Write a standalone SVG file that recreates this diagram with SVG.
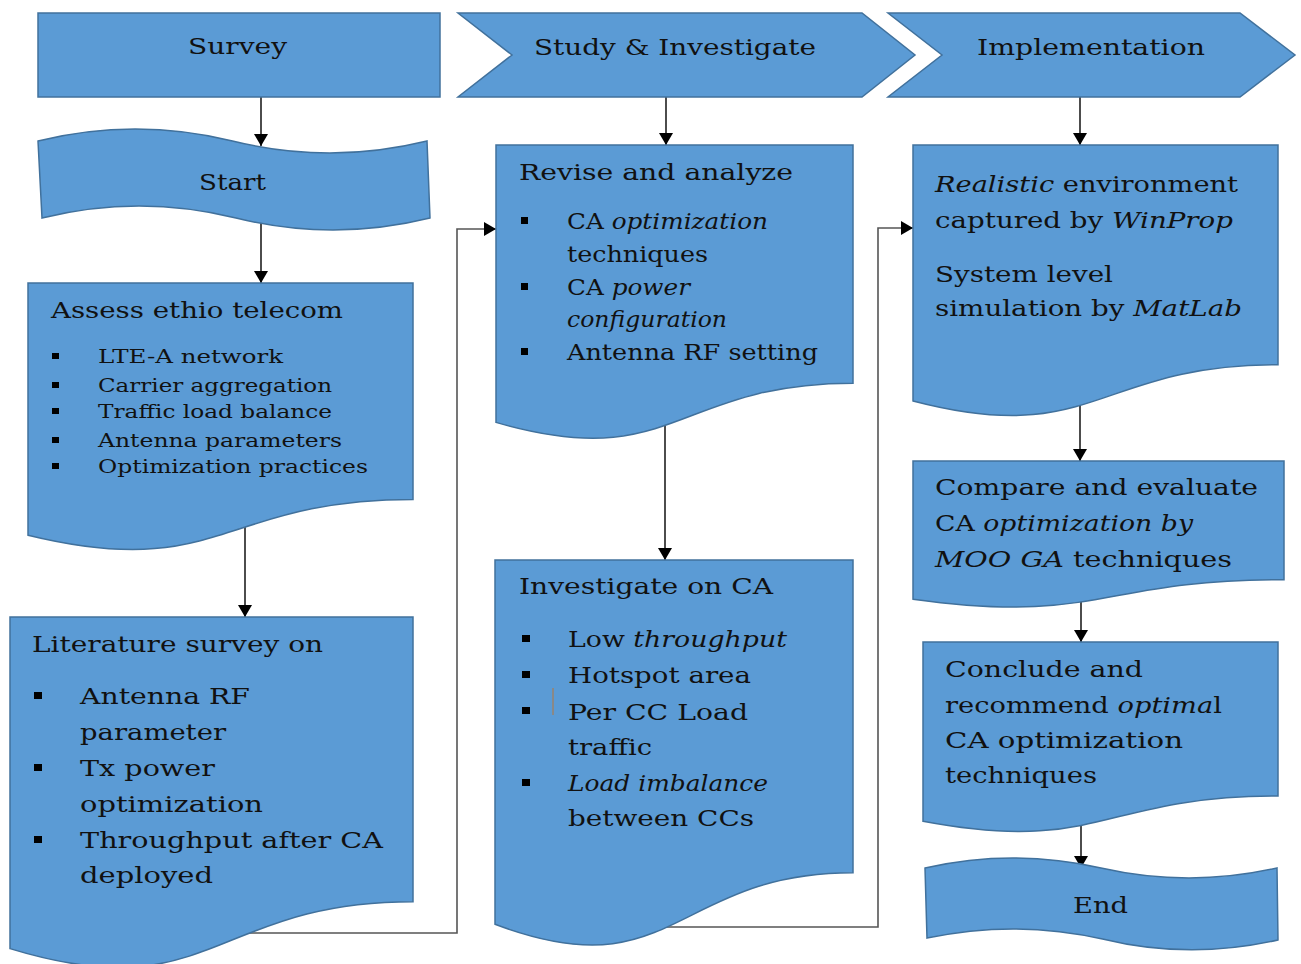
<svg xmlns="http://www.w3.org/2000/svg" width="1301" height="964" viewBox="0 0 1301 964">
  <style>
    .shape { fill: #5B9BD5; stroke: #41719C; stroke-width: 1.5; }
    .conn { fill: none; stroke: #000; stroke-width: 1.4; }
    .route { fill: none; stroke: #555; stroke-width: 1.6; }
    text { font-family: "DejaVu Serif", "Liberation Serif", serif; fill: #111; }
    .hd { font-size: 23px; }
    .tt { font-size: 23px; }
    .sm { font-size: 18px; }
    .it { font-style: italic; }
    .bul { fill: #000; }
  </style>
  <defs>
    <marker id="arrow" viewBox="0 0 12 14" refX="12" refY="7" markerWidth="12" markerHeight="14" markerUnits="userSpaceOnUse" orient="auto">
      <path d="M0,0 L12,7 L0,14 Z" fill="#000"/>
    </marker>
  </defs>

  <!-- connectors, drawn beneath the shapes -->
  <g id="connectors">
    <path class="conn" d="M261,97 V146" marker-end="url(#arrow)"/>
    <path class="conn" d="M261,215 V283" marker-end="url(#arrow)"/>
    <path class="conn" d="M245,520 V617" marker-end="url(#arrow)"/>
    <path class="route" d="M200,933 H457 V229 H496" marker-end="url(#arrow)"/>
    <path class="conn" d="M666,97 V145" marker-end="url(#arrow)"/>
    <path class="conn" d="M665,415 V560" marker-end="url(#arrow)"/>
    <path class="route" d="M650,927 H878 V228 H913" marker-end="url(#arrow)"/>
    <path class="conn" d="M1080,97 V145" marker-end="url(#arrow)"/>
    <path class="conn" d="M1080,395 V461" marker-end="url(#arrow)"/>
    <path class="conn" d="M1081,595 V642" marker-end="url(#arrow)"/>
    <path class="conn" d="M1081,815 V868" marker-end="url(#arrow)"/>
  </g>

  <!-- phase headers -->
  <g id="survey">
    <rect class="shape" x="38" y="13" width="402" height="84"/>
    <text class="hd" x="188" y="54" textLength="99" lengthAdjust="spacingAndGlyphs">Survey</text>
  </g>
  <g id="study">
    <path class="shape" d="M458,13 H862 L915,55 L862,97 H458 L512,55 Z"/>
    <text class="hd" x="534" y="55" textLength="282" lengthAdjust="spacingAndGlyphs">Study &amp; Investigate</text>
  </g>
  <g id="implementation">
    <path class="shape" d="M888,13 H1240 L1295,55 L1240,97 H888 L942,55 Z"/>
    <text class="hd" x="977" y="55" textLength="228" lengthAdjust="spacingAndGlyphs">Implementation</text>
  </g>

  <!-- column 1 -->
  <g id="start">
    <path class="shape" d="M38,141 C102.8,125 167.7,125 232.5,141 C297.3,157 362.2,157 427,141 L430,218 C365.3,234 300.7,234 236,218 C171.3,202 106.7,202 42,218 Z"/>
    <text class="hd" x="199" y="190" textLength="67" lengthAdjust="spacingAndGlyphs">Start</text>
  </g>
  <g id="assess">
    <path class="shape" d="M28,283 H413 V499.5 C220.5,499.5 220.5,582 28,535.2 Z"/>
    <text class="tt" x="51" y="318" textLength="292" lengthAdjust="spacingAndGlyphs">Assess ethio telecom</text>
    <rect class="bul" x="52" y="353" width="7" height="6"/>
    <rect class="bul" x="52" y="382" width="7" height="6"/>
    <rect class="bul" x="52" y="408" width="7" height="6"/>
    <rect class="bul" x="52" y="437" width="7" height="6"/>
    <rect class="bul" x="52" y="463" width="7" height="6"/>
    <text class="sm" x="98" y="363" textLength="185" lengthAdjust="spacingAndGlyphs">LTE-A network</text>
    <text class="sm" x="98" y="392" textLength="234" lengthAdjust="spacingAndGlyphs">Carrier aggregation</text>
    <text class="sm" x="98" y="418" textLength="234" lengthAdjust="spacingAndGlyphs">Traffic load balance</text>
    <text class="sm" x="98" y="447" textLength="244" lengthAdjust="spacingAndGlyphs">Antenna parameters</text>
    <text class="sm" x="98" y="473" textLength="270" lengthAdjust="spacingAndGlyphs">Optimization practices</text>
  </g>
  <g id="literature">
    <path class="shape" d="M10,617 H413 V901.7 C211.5,901.7 211.5,1010.2 10,948.6 Z"/>
    <text class="tt" x="32" y="652" textLength="291" lengthAdjust="spacingAndGlyphs">Literature survey on</text>
    <rect class="bul" x="34" y="692" width="8" height="7"/>
    <rect class="bul" x="34" y="764" width="8" height="7"/>
    <rect class="bul" x="34" y="836" width="8" height="7"/>
    <text class="tt" x="80" y="704" textLength="170" lengthAdjust="spacingAndGlyphs">Antenna RF</text>
    <text class="tt" x="80" y="740" textLength="146" lengthAdjust="spacingAndGlyphs">parameter</text>
    <text class="tt" x="80" y="776" textLength="135" lengthAdjust="spacingAndGlyphs">Tx power</text>
    <text class="tt" x="80" y="812" textLength="183" lengthAdjust="spacingAndGlyphs">optimization</text>
    <text class="tt" x="80" y="848" textLength="303" lengthAdjust="spacingAndGlyphs">Throughput after CA</text>
    <text class="tt" x="80" y="883" textLength="133" lengthAdjust="spacingAndGlyphs">deployed</text>
  </g>

  <!-- column 2 -->
  <g id="revise">
    <path class="shape" d="M496,145 H853 V383.2 C674.5,383.2 674.5,473.9 496,422.4 Z"/>
    <text class="tt" x="519" y="180" textLength="274" lengthAdjust="spacingAndGlyphs">Revise and analyze</text>
    <rect class="bul" x="521" y="217" width="7" height="7"/>
    <rect class="bul" x="521" y="283" width="7" height="7"/>
    <rect class="bul" x="521" y="348" width="7" height="7"/>
    <text class="tt" x="567" y="229" textLength="201" lengthAdjust="spacingAndGlyphs">CA <tspan class="it">optimization</tspan></text>
    <text class="tt" x="567" y="262" textLength="141" lengthAdjust="spacingAndGlyphs">techniques</text>
    <text class="tt" x="567" y="295" textLength="123" lengthAdjust="spacingAndGlyphs">CA <tspan class="it">power</tspan></text>
    <text class="tt it" x="567" y="327" textLength="160" lengthAdjust="spacingAndGlyphs">configuration</text>
    <text class="tt" x="567" y="360" textLength="251" lengthAdjust="spacingAndGlyphs">Antenna RF setting</text>
  </g>
  <g id="investigate">
    <path class="shape" d="M495,560 H853 V872.8 C674,872.8 674,991.9 495,924.3 Z"/>
    <text class="tt" x="519" y="594" textLength="254" lengthAdjust="spacingAndGlyphs">Investigate on CA</text>
    <rect class="bul" x="522" y="635" width="8" height="7"/>
    <rect class="bul" x="522" y="671" width="8" height="7"/>
    <rect class="bul" x="522" y="707" width="8" height="7"/>
    <rect class="bul" x="522" y="779" width="8" height="7"/>
    <line x1="553" y1="688" x2="553" y2="715" stroke="#B8763A" stroke-width="1"/>
    <text class="tt" x="568" y="647" textLength="219" lengthAdjust="spacingAndGlyphs">Low <tspan class="it">throughput</tspan></text>
    <text class="tt" x="568" y="683" textLength="183" lengthAdjust="spacingAndGlyphs">Hotspot area</text>
    <text class="tt" x="568" y="720" textLength="180" lengthAdjust="spacingAndGlyphs">Per CC Load</text>
    <text class="tt" x="568" y="755" textLength="84" lengthAdjust="spacingAndGlyphs">traffic</text>
    <text class="tt it" x="568" y="791" textLength="200" lengthAdjust="spacingAndGlyphs">Load imbalance</text>
    <text class="tt" x="568" y="826" textLength="186" lengthAdjust="spacingAndGlyphs">between CCs</text>
  </g>

  <!-- column 3 -->
  <g id="realistic">
    <path class="shape" d="M913,145 H1278 V364.7 C1095.5,364.7 1095.5,448.5 913,400.9 Z"/>
    <text class="tt" x="935" y="192" textLength="303" lengthAdjust="spacingAndGlyphs"><tspan class="it">Realistic</tspan> environment</text>
    <text class="tt" x="935" y="228" textLength="298" lengthAdjust="spacingAndGlyphs">captured by <tspan class="it">WinProp</tspan></text>
    <text class="tt" x="935" y="282" textLength="178" lengthAdjust="spacingAndGlyphs">System level</text>
    <text class="tt" x="935" y="316" textLength="307" lengthAdjust="spacingAndGlyphs">simulation by <tspan class="it">MatLab</tspan></text>
  </g>
  <g id="compare">
    <path class="shape" d="M913,461 H1284 V579.7 C1098.5,579.7 1098.5,624.9 913,599.2 Z"/>
    <text class="tt" x="935" y="495" textLength="323" lengthAdjust="spacingAndGlyphs">Compare and evaluate</text>
    <text class="tt" x="935" y="531" textLength="258" lengthAdjust="spacingAndGlyphs">CA <tspan class="it">optimization by</tspan></text>
    <text class="tt" x="935" y="567" textLength="297" lengthAdjust="spacingAndGlyphs"><tspan class="it">MOO GA</tspan> techniques</text>
  </g>
  <g id="conclude">
    <path class="shape" d="M923,642 H1278 V796 C1100.5,796 1100.5,854.6 923,821.3 Z"/>
    <text class="tt" x="945" y="677" textLength="198" lengthAdjust="spacingAndGlyphs">Conclude and</text>
    <text class="tt" x="945" y="713" textLength="277" lengthAdjust="spacingAndGlyphs">recommend <tspan class="it">optima</tspan>l</text>
    <text class="tt" x="945" y="748" textLength="238" lengthAdjust="spacingAndGlyphs">CA optimization</text>
    <text class="tt" x="945" y="783" textLength="152" lengthAdjust="spacingAndGlyphs">techniques</text>
  </g>
  <g id="end">
    <path class="shape" d="M925,868 C983.7,854.7 1042.3,854.7 1101,868 C1159.7,881.3 1218.3,881.3 1277,868 L1278,940 C1219.5,953.3 1161,953.3 1102.5,939 C1044,925.7 985.5,925.7 927,938 Z"/>
    <text class="hd" x="1073" y="913" textLength="55" lengthAdjust="spacingAndGlyphs">End</text>
  </g>
</svg>
